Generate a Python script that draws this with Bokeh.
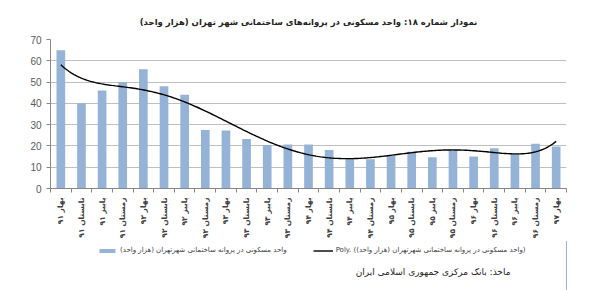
import math
import numpy as np
from bokeh.plotting import figure
from bokeh.layouts import column
from bokeh.models import (Range1d, FixedTicker, Legend, LegendItem, Label,
                          ColumnDataSource)
from bokeh.embed import file_html
from bokeh.resources import INLINE

# ---------------- data ----------------
categories = [
    "بهار ۹۱", "تابستان ۹۱", "پاییز ۹۱", "زمستان ۹۱",
    "بهار ۹۲", "تابستان ۹۲", "پاییز ۹۲", "زمستان ۹۲",
    "بهار ۹۳", "تابستان ۹۳", "پاییز ۹۳", "زمستان ۹۳",
    "بهار ۹۴", "تابستان ۹۴", "پاییز ۹۴", "زمستان ۹۴",
    "بهار ۹۵", "تابستان ۹۵", "پاییز ۹۵", "زمستان ۹۵",
    "بهار ۹۶", "تابستان ۹۶", "پاییز ۹۶", "زمستان ۹۶",
    "بهار ۹۷",
]
values = [65, 40, 46, 50, 56, 48, 44, 27.5, 27.3, 23.2, 20.4, 20.7, 20.7,
          18.1, 14.2, 13.7, 15.4, 17.3, 14.7, 18.1, 15.0, 18.9, 16.2, 21.0, 19.7]
y_ticks = [0, 10, 20, 30, 40, 50, 60, 70]

title_text = "نمودار شماره ۱۸: واحد مسکونی در پروانه‌های ساختمانی شهر تهران (هزار واحد)\u200f"
series_name = "واحد مسکونی در پروانه ساختمانی شهرتهران (هزار واحد)\u200f"
trend_name = "Poly. (واحد مسکونی در پروانه ساختمانی شهرتهران (هزار واحد)\u200f)"
source_text = "ماخذ: بانک مرکزی جمهوری اسلامی ایران\u200f"

FA_FONT = "DejaVu Sans"
BAR_COLOR = "#95B3D7"

# ---------------- main chart ----------------
xs = list(range(len(categories)))
src = ColumnDataSource(dict(x=xs, v=values))

# polynomial trend line (order 6) fitted to the bar values, as in the source chart
coef = np.polyfit(xs, values, 6)
xf = np.linspace(0, len(categories) - 1, 300)
trend_src = ColumnDataSource(dict(x=xf, y=np.polyval(coef, xf)))

p = figure(width=600, height=241, output_backend="svg", toolbar_location=None,
           x_range=Range1d(-0.5, len(categories) - 0.5), y_range=Range1d(0, 70),
           min_border_left=50, min_border_right=34, min_border_top=39,
           min_border_bottom=52)
p.outline_line_color = None
p.border_fill_color = "white"

p.title.text = title_text
p.title.align = "center"
p.title.offset = -11
p.title.standoff = 25
p.title.text_font = FA_FONT
p.title.text_font_size = "8.5px"
p.title.text_font_style = "bold"
p.title.text_color = "#222222"

bars = p.vbar(x="x", top="v", width=0.42, source=src, fill_color=BAR_COLOR,
              line_color=None)
trend = p.line(x="x", y="y", source=trend_src, line_color="black", line_width=1.4)

p.yaxis.ticker = FixedTicker(ticks=y_ticks)
p.yaxis.major_label_text_font = "Liberation Sans"
p.yaxis.major_label_text_font_size = "10px"
p.yaxis.major_label_text_color = "#595959"
p.yaxis.axis_line_color = "#868686"
p.yaxis.major_tick_line_color = "#868686"
p.yaxis.major_tick_out = 4
p.yaxis.major_tick_in = 0
p.yaxis.minor_tick_line_color = None

p.xaxis.ticker = FixedTicker(ticks=xs,
                             minor_ticks=[i - 0.5 for i in range(len(categories) + 1)])
p.xaxis.major_label_overrides = {i: c for i, c in enumerate(categories)}
p.xaxis.major_label_orientation = math.pi / 2
p.xaxis.major_label_text_font = FA_FONT
p.xaxis.major_label_text_font_size = "7.5px"
p.xaxis.major_label_text_font_style = "bold"
p.xaxis.major_label_text_color = "#404040"
p.xaxis.axis_line_color = "#868686"
p.xaxis.major_tick_line_color = None
p.xaxis.minor_tick_line_color = "#868686"
p.xaxis.minor_tick_out = 4
p.xaxis.minor_tick_in = 0
p.xaxis.major_label_standoff = 3

p.xgrid.visible = False
p.ygrid.grid_line_color = "#BFBFBF"
p.ygrid.ticker = FixedTicker(ticks=y_ticks)

# ---------------- legend + source strip (frame is aligned with the chart's) ----------------
q = figure(width=600, height=49, output_backend="svg", toolbar_location=None,
           x_range=Range1d(-200, -199), y_range=Range1d(0, 1),
           min_border=0, x_axis_type=None, y_axis_type=None)
q.outline_line_color = None
q.grid.visible = False
q.border_fill_color = "white"

# same series drawn outside the visible range, only to provide legend keys
key_bar = q.vbar(x="x", top="v", width=0.42, source=src, fill_color=BAR_COLOR,
                 line_color=None)
key_line = q.line(x="x", y="y", source=trend_src, line_color="black", line_width=1.4)

legend = Legend(items=[LegendItem(label=series_name, renderers=[key_bar]),
                       LegendItem(label=trend_name, renderers=[key_line])],
                location=(47, 35), orientation="horizontal",
                label_text_font=FA_FONT, label_text_font_size="7px",
                label_text_color="#404040",
                glyph_width=20, glyph_height=5, label_height=10,
                label_standoff=3, spacing=26, padding=2, margin=0,
                border_line_color=None, background_fill_alpha=0)
q.add_layout(legend)

q.add_layout(Label(x=460, y=19, x_units="screen", y_units="screen",
                   text=source_text, text_align="right", text_baseline="middle",
                   text_font=FA_FONT, text_font_size="9px", text_color="#222222"))

open("out.html", "w").write(file_html(column(p, q, spacing=0), INLINE))
